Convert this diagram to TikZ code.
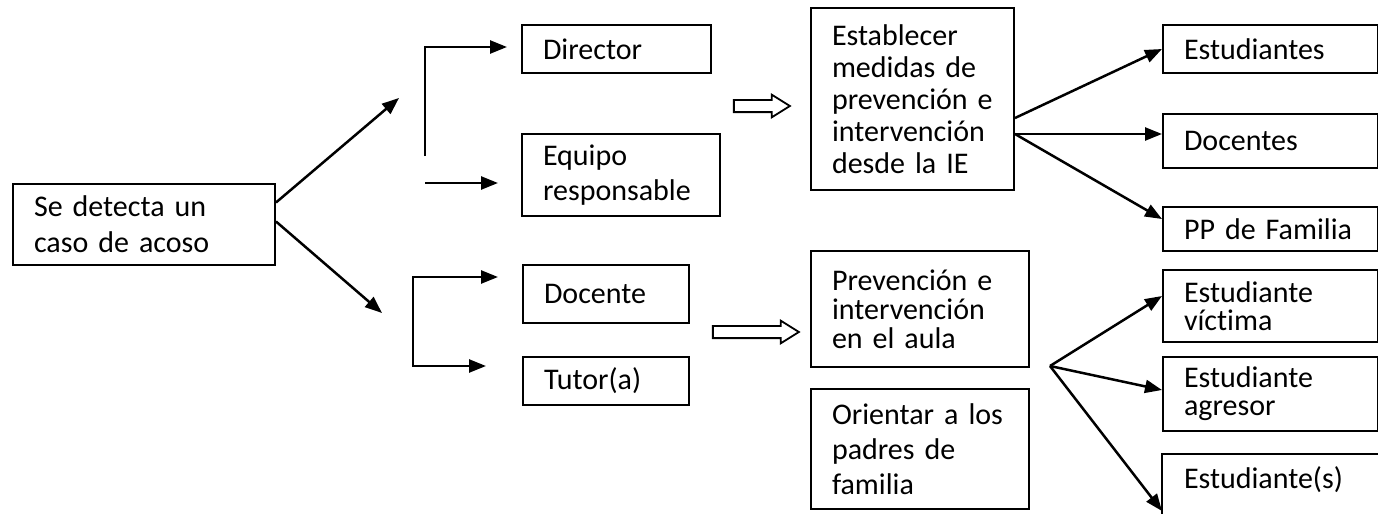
\documentclass[tikz,border=0pt]{standalone}
\usepackage{fontspec}
\setmainfont{Carlito}[Ligatures=NoCommon]
\usetikzlibrary{positioning,calc,arrows.meta,shapes.arrows}

\begin{document}
\begin{tikzpicture}[x=0.5pt, y=-0.5pt,
		box/.style={draw, line width=1pt, anchor=north west, inner xsep=10.5pt, inner ysep=0pt, align=left, font=\fontsize{15}{18}\selectfont},
		txt/.style={font=\fontsize{15}{#1}\selectfont},
		hollow/.style={single arrow, draw, line width=0.9pt, inner xsep=0pt, inner ysep=2.6pt, minimum width=0pt, single arrow head extend=2.6pt, single arrow tip angle=64},
		>={Triangle[length=8.5pt,width=6.5pt]}, line width=1.25pt
	]
	\useasboundingbox (0,0) rectangle (1378,514);
	% left part
	\node[box, text width=110pt, minimum height=40.5pt] (detect) at (12,183) {Se detecta un\\caso de acoso};
	\node[box, text width=73.5pt, minimum height=24pt] (director) at (521,24) {Director};
	\node[box, txt=17.5, text width=78pt, minimum height=41pt] (equipo) at (521,133) {Equipo\\responsable};
	\node[box, text width=62pt, minimum height=29pt] (docente) at (522,264) {Docente};
	\node[box, text width=62pt, minimum height=24pt] (tutor) at (522,356) {Tutor(a)};
	% middle part
	\node[box, txt=16, text width=80.5pt, minimum height=91pt] (medidas) at (810,7) {Establecer\\medidas de\\prevención e\\intervención\\desde la IE};
	\node[box, txt=14.5, text width=88pt, minimum height=58pt] (aula) at (810,250) {Prevención e\\intervención\\en el aula};
	\node[box, txt=17.5, text width=88pt, minimum height=60pt] (padres) at (810,388) {Orientar a los\\padres de\\familia};
	% right part
	\node[box, text width=86.5pt, minimum height=24pt] (estudiantes) at (1162,24) {Estudiantes};
	\node[box, text width=86.5pt, minimum height=27pt] (docentes) at (1162,113) {Docentes};
	\node[box, text width=86.5pt, minimum height=22pt] (ppfamilia) at (1162,206) {PP de Familia};
	\node[box, txt=14, text width=86.5pt, minimum height=36pt] (victima) at (1162,269) {Estudiante\\víctima};
	\node[box, txt=14, text width=86.5pt, minimum height=37pt] (agresor) at (1162,356) {Estudiante\\agresor};
	\node[box, draw=none, text width=86.5pt, minimum height=25pt] (varios) at (1162,454) {Estudiante(s)};
	\coordinate (corte) at (1162,520);
	\draw[line width=1pt] (corte) |- (varios.north east) -- (varios.north east |- corte);
	% hollow arrows
	\node[hollow, minimum height=28pt] (flechaA) at (757,106) {};
	\node[hollow, minimum height=43pt] (flechaB) at (751,332) {};
	% connectors
	\coordinate (upend) at (399,98);
	\coordinate (downend) at (382,313);
	\draw[->] ([yshift=11pt]detect.east) -- (upend);
	\draw[->] ([yshift=1.5pt]detect.east) -- (downend);
	\coordinate (brtop) at (425,156);
	\coordinate (tipdir) at (507,47);
	\draw[->] (brtop) |- (tipdir);
	\coordinate (eqstart) at (425,183);
	\coordinate (eqtip) at (498,183);
	\draw[->] (eqstart) -- (eqtip);
	\coordinate (doctip) at (498,277);
	\coordinate (brbot) at (413,366);
	\coordinate (tuttip) at (486,366);
	\draw[<->] (doctip) -| (brbot) -- (tuttip);
	\coordinate (fanA) at ([yshift=-17.5pt]medidas.east);
	\draw[->] ([yshift=-9.5pt]medidas.east) -- (estudiantes.west);
	\draw[->] (fanA) -- (fanA -| docentes.west);
	\draw[->] (fanA) -- ([yshift=5pt]ppfamilia.west);
	\coordinate (fanB) at (1050,366);
	\coordinate (vtip) at (1162,511);
	\draw[->] (fanB) -- ([yshift=5pt]victima.west);
	\draw[->] (fanB) -- ([yshift=2pt]agresor.west);
	\draw[->] (fanB) -- (vtip);
\end{tikzpicture}
\end{document}
